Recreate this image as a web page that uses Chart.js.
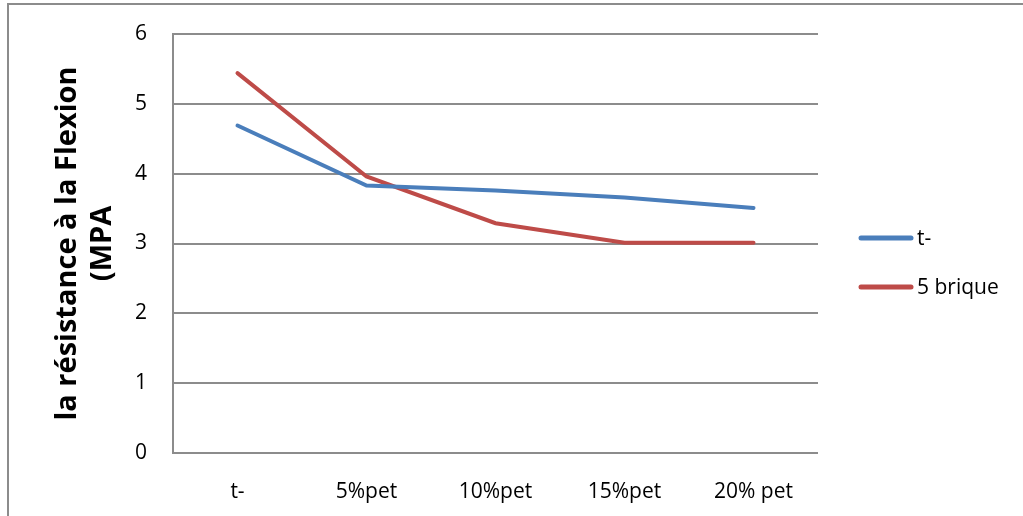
<!DOCTYPE html>
<html>
<head>
    <title>Flexion</title>
    <style>
        body {
            margin: 0;
            overflow: hidden;
            background: #fff;
        }

        #frame {
            position: absolute;
            left: 7px;
            top: 3px;
            width: 1100px;
            height: 600px;
            border: 2px solid #8c8c8c;
        }

        #chartContainer {
            position: absolute;
            left: 0;
            top: 0;
            width: 1023px;
            height: 516px;
        }
    </style>
</head>
<body>
    <div id="frame"></div>
    <div id="chartContainer">
        <canvas id="lineChart"></canvas>
    </div>

    <script src="https://cdn.jsdelivr.net/npm/chart.js"></script>
    <script>
        var categories = ['t-', '5%pet', '10%pet', '15%pet', '20% pet'];
        var seriesNames = ['t-', '5 brique'];
        var valuesT = [4.69, 3.83, 3.76, 3.66, 3.51];
        var valuesBrique = [5.44, 3.96, 3.29, 3.01, 3.01];
        var yTicks = [0, 1, 2, 3, 4, 5, 6];
        var yTitle = ['la résistance à la Flexion', '(MPA'];

        var fontFamily = '"Open Sans", "Noto Sans", sans-serif';

        // legend drawn by hand, to the right of the plot (Excel style)
        var sideLegend = {
            id: 'sideLegend',
            afterDraw: function (chart) {
                var c = chart.ctx;
                var x0 = chart.chartArea.right + 43;
                var y0 = 238;
                c.save();
                c.font = '21px ' + fontFamily;
                c.textBaseline = 'middle';
                c.fillStyle = '#000';
                chart.data.datasets.forEach(function (ds, i) {
                    var y = y0 + i * 49;
                    c.beginPath();
                    c.strokeStyle = ds.borderColor;
                    c.lineWidth = 5;
                    c.lineCap = 'round';
                    c.moveTo(x0, y);
                    c.lineTo(x0 + 50, y);
                    c.stroke();
                    c.fillText(ds.label, x0 + 56, y + 1);
                });
                c.restore();
            }
        };

        var ctx = document.getElementById('lineChart').getContext('2d');
        var lineChart = new Chart(ctx, {
            type: 'line',
            data: {
                labels: categories,
                datasets: [{
                    label: seriesNames[0],
                    data: valuesT,
                    borderColor: '#4A7EBB',
                    backgroundColor: '#4A7EBB',
                    borderWidth: 4,
                    borderCapStyle: 'round',
                    pointRadius: 0,
                    tension: 0
                }, {
                    label: seriesNames[1],
                    data: valuesBrique,
                    borderColor: '#BE4B48',
                    backgroundColor: '#BE4B48',
                    borderWidth: 4,
                    borderCapStyle: 'round',
                    pointRadius: 0,
                    tension: 0
                }]
            },
            options: {
                responsive: true,
                maintainAspectRatio: false,
                animation: false,
                layout: {
                    padding: { left: 46, top: 34, right: 205, bottom: 10 }
                },
                plugins: {
                    tooltip: { enabled: false },
                    legend: { display: false }
                },
                scales: {
                    x: {
                        offset: true,
                        grid: { display: false, drawTicks: false },
                        border: { display: false },
                        ticks: {
                            color: '#000',
                            padding: 26,
                            font: { family: fontFamily, size: 21 }
                        },
                        afterFit: function (scale) {
                            scale.height = 53;
                            scale.paddingLeft = 0;
                            scale.paddingRight = 0;
                        }
                    },
                    y: {
                        min: 0,
                        max: 6,
                        afterBuildTicks: function (axis) {
                            axis.ticks = yTicks.map(function (v) { return { value: v }; });
                        },
                        grid: { color: '#8c8c8c', lineWidth: 2, drawTicks: false },
                        border: { display: true, color: '#8c8c8c', width: 2 },
                        ticks: {
                            color: '#000',
                            padding: 26,
                            font: { family: fontFamily, size: 21 }
                        },
                        title: {
                            display: true,
                            text: yTitle,
                            color: '#000',
                            padding: { top: 4, bottom: 0 },
                            font: { family: fontFamily, size: 29, weight: 'bold', lineHeight: 1.22 }
                        },
                        afterFit: function (scale) {
                            scale.width = 127;
                            scale.paddingTop = 0;
                            scale.paddingBottom = 0;
                        }
                    }
                }
            },
            plugins: [sideLegend]
        });
    </script>
</body>
</html>
